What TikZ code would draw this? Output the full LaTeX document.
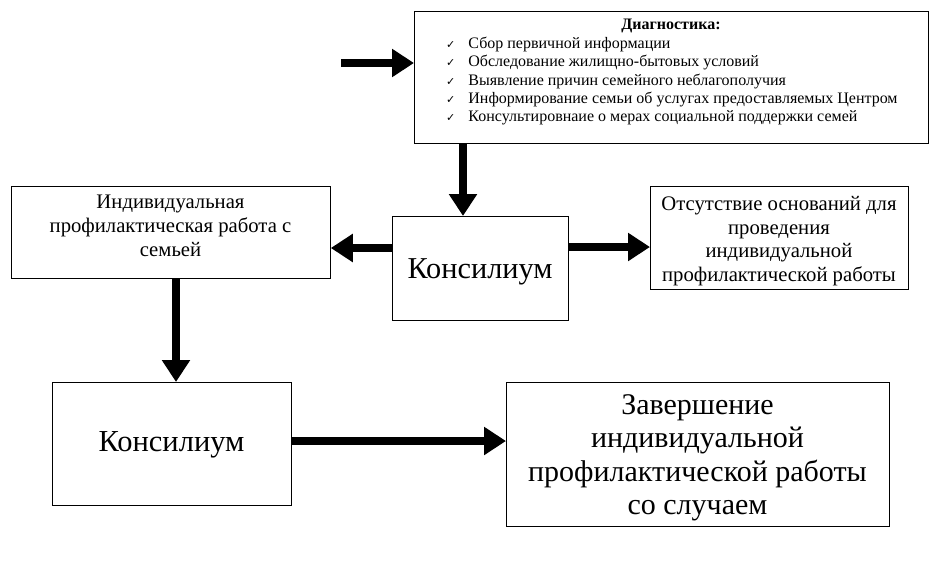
\documentclass[tikz,border=0pt]{standalone}
\usepackage{fontspec}
\setmainfont{Liberation Serif}
\newfontfamily\symfont{DejaVu Sans}
\usetikzlibrary{arrows.meta}
\tikzset{
  box/.style={draw, line width=0.8pt, anchor=north west, inner sep=0pt},
  boxtext/.style={align=center, inner sep=0pt},
  bigarrow/.style={line width=8pt, -{Triangle[width=27pt,length=22pt]}},
}
\newcommand{\chk}{{\symfont\fontsize{11}{11}\selectfont ✓}\hspace{13pt}}
\begin{document}
\begin{tikzpicture}[x=1pt,y=-1pt]
\useasboundingbox (0,0) rectangle (939,568);
% boxes
\node[box, minimum width=514pt, minimum height=132pt] (diag) at (414,11) {};
\node[box, minimum width=319pt, minimum height=92pt] (ipr) at (11,186) {};
\node[box, minimum width=176pt, minimum height=104pt] (kons1) at (392,216) {};
\node[box, minimum width=258pt, minimum height=103pt] (otsut) at (650,186) {};
\node[box, minimum width=239pt, minimum height=123pt] (kons2) at (52,382) {};
\node[box, minimum width=383pt, minimum height=144pt] (zav) at (506,382) {};
% texts
\node[boxtext, font=\fontsize{16}{16}\selectfont\bfseries] (diagtitle) at (671,26) {Диагностика:};
\node[anchor=north west, align=left, inner sep=0pt, font=\fontsize{16}{18.3}\selectfont] (diaglist) at (446,37) {%
\chk Сбор первичной информации\\
\chk Обследование жилищно-бытовых условий\\
\chk Выявление причин семейного неблагополучия\\
\chk Информирование семьи об услугах предоставляемых Центром\\
\chk Консультировнаие о мерах социальной поддержки семей};
\node[boxtext, font=\fontsize{20.7}{24}\selectfont] (ipr-t) at (170.5,226) {Индивидуальная\\профилактическая работа с\\семьей};
\node[boxtext, font=\fontsize{30.3}{33}\selectfont] (kons1-t) at (480,272) {Консилиум};
\node[boxtext, font=\fontsize{20.7}{23.5}\selectfont] (otsut-t) at (779,241) {Отсутствие оснований для\\проведения\\индивидуальной\\профилактической работы};
\node[boxtext, font=\fontsize{30.5}{33}\selectfont] (kons2-t) at (171.5,445) {Консилиум};
\node[boxtext, font=\fontsize{30}{33.5}\selectfont] (zav-t) at (697.5,458) {Завершение\\индивидуальной\\профилактической работы\\со случаем};
% arrows
\coordinate (start) at (341,63);
\draw[bigarrow] (start) -- (diag.west |- start);
\draw[bigarrow] (diag.south -| 463,0) -- (kons1.north -| 463,0);
\draw[bigarrow] (kons1.west |- 0,248) -- (ipr.east |- 0,248);
\draw[bigarrow] (kons1.east |- 0,247) -- (otsut.west |- 0,247);
\draw[bigarrow] (ipr.south -| 176,0) -- (kons2.north -| 176,0);
\draw[bigarrow] (kons2.east |- 0,441) -- (zav.west |- 0,441);
\end{tikzpicture}
\end{document}
